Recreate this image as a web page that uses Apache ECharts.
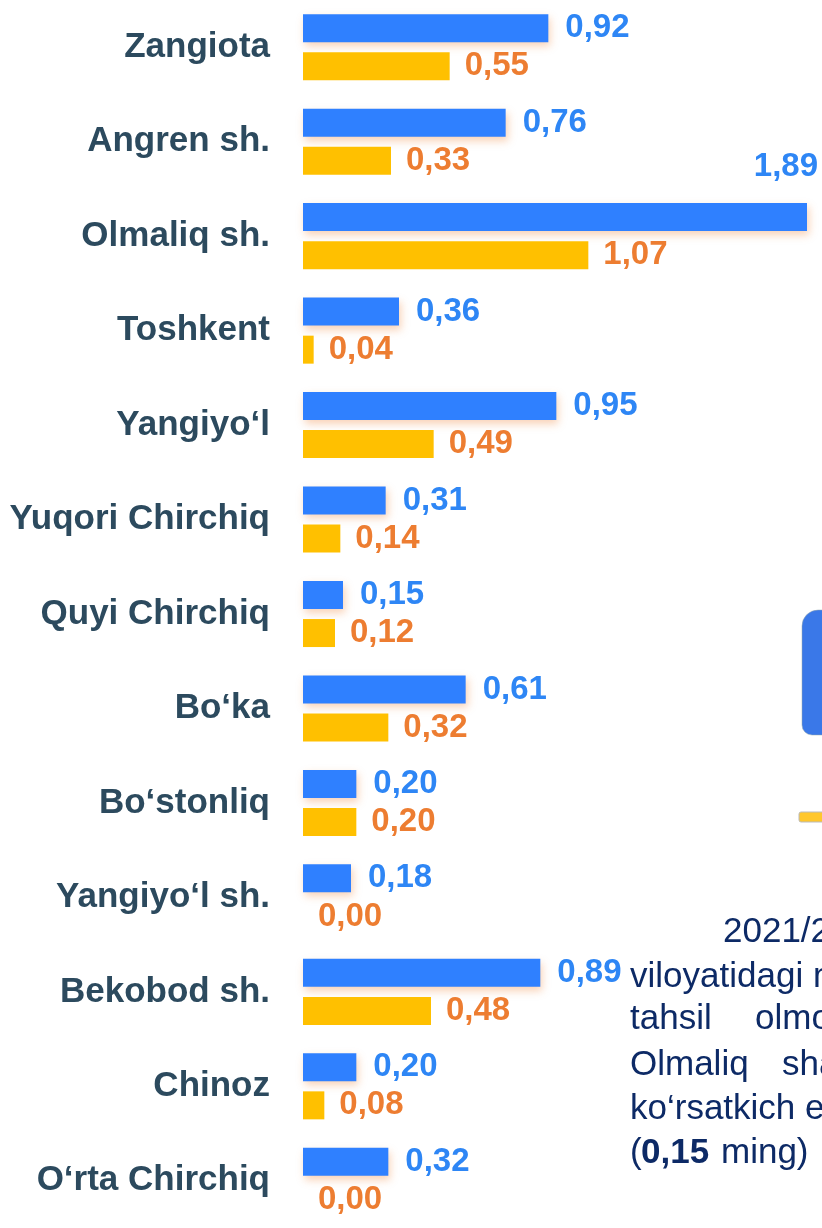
<!DOCTYPE html>
<html><head><meta charset="utf-8">
<script src="https://cdn.jsdelivr.net/npm/echarts@6/dist/echarts.min.js"></script>
<style>html,body{margin:0;padding:0;background:#fff;}#c{width:822px;height:1228px;}</style>
</head><body><div id="c"></div>
<script>
const categories = ["Zangiota","Angren sh.","Olmaliq sh.","Toshkent","Yangiyo\u2018l","Yuqori Chirchiq","Quyi Chirchiq","Bo\u2018ka","Bo\u2018stonliq","Yangiyo\u2018l sh.","Bekobod sh.","Chinoz","O\u2018rta Chirchiq"];
const blueValues = [0.92,0.76,1.89,0.36,0.95,0.31,0.15,0.61,0.20,0.18,0.89,0.20,0.32];
const yellowValues = [0.55,0.33,1.07,0.04,0.49,0.14,0.12,0.32,0.20,0.00,0.48,0.08,0.00];

const FONT = '"Liberation Sans", Arial, sans-serif';
const fmt = v => v.toFixed(2).replace('.', ',');
const chart = echarts.init(document.getElementById('c'), null, {renderer:'canvas'});

const blueData = blueValues.map((v,i) => {
  const item = {value: v};
  if (v === Math.max(...blueValues)) {
    item.label = {position: ['100%', 0], align: 'right', verticalAlign: 'bottom', offset: [11, -20]};
  }
  return item;
});

const NAVY = '#0D2A66';
function txt(x, baseline, s, bold) {
  return {type: 'text', style: {x: x, y: baseline - 11, text: s, fill: NAVY,
    font: (bold ? 'bold ' : '') + '35px ' + FONT, verticalAlign: 'middle', align: 'left'}};
}

chart.setOption({
  animation: false,
  grid: {left: 303, top: -3, width: 504, height: 1244, containLabel: false},
  xAxis: {type: 'value', min: 0, max: 1.89, show: false},
  yAxis: {
    type: 'category', data: categories, inverse: true,
    axisLine: {show: false}, axisTick: {show: false}, splitLine: {show: false},
    axisLabel: {color: '#2C4A5E', fontSize: 35, fontWeight: 'bold', fontFamily: FONT, margin: 33}
  },
  series: [
    {
      type: 'bar', data: blueData, barWidth: 28, barGap: '36%',
      itemStyle: {color: '#2F80FF', shadowColor: 'rgba(237,125,49,0.35)', shadowBlur: 8, shadowOffsetY: 4, shadowOffsetX: 2},
      label: {show: true, position: 'right', distance: 17, color: '#2E86F5', fontSize: 33, fontWeight: 'bold', fontFamily: FONT, formatter: p => fmt(p.value)}
    },
    {
      type: 'bar', data: yellowValues, barWidth: 28,
      itemStyle: {color: '#FFC000'},
      label: {show: true, position: 'right', distance: 15, color: '#ED7D31', fontSize: 33, fontWeight: 'bold', fontFamily: FONT, formatter: p => fmt(p.value)}
    }
  ],
  graphic: [
    {type: 'rect', shape: {x: 802, y: 610, width: 40, height: 125, r: [16,0,0,10]}, style: {fill: '#3A78E8', stroke: '#9aa', lineWidth: 0.5}},
    {type: 'rect', shape: {x: 799, y: 812, width: 40, height: 10, r: 2}, style: {fill: '#FFC72C', stroke: '#bbb', lineWidth: 1}},
    txt(723, 943, '2021/2022'),
    txt(630, 988, 'viloyatidagi maktablarda'),
    txt(630, 1030, 'tahsil'),
    txt(755, 1030, 'olmoqda'),
    txt(630, 1076, 'Olmaliq'),
    txt(782, 1076, 'shahrida'),
    txt(630, 1120, 'ko\u2018rsatkich eng'),
    txt(630, 1164, '('),
    txt(641, 1164, '0,15', true),
    txt(721, 1164, 'ming)')
  ]
});
</script></body></html>
